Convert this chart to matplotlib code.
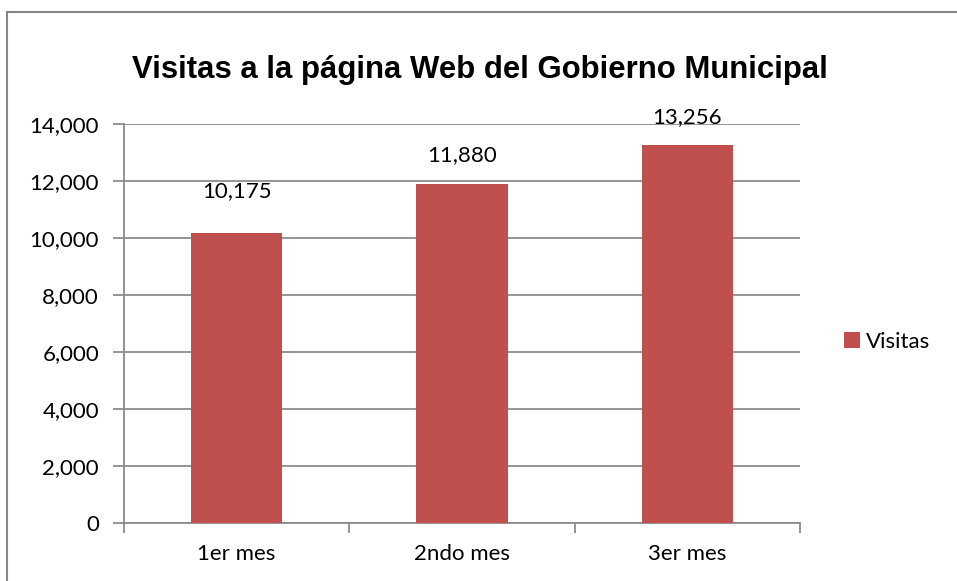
import matplotlib.pyplot as plt
from matplotlib.patches import Rectangle
from matplotlib.ticker import FuncFormatter

categories = ["1er mes", "2ndo mes", "3er mes"]
visitas = [10175, 11880, 13256]
series_name = "Visitas"
title = "Visitas a la página Web del Gobierno Municipal"
yticks = [0, 2000, 4000, 6000, 8000, 10000, 12000, 14000]

bar_color = "#C0504D"
grid_color = "#8C8C8C"
label_font = "Lato"

fig = plt.figure(figsize=(9.57, 5.81), dpi=100)
ax = fig.add_axes([124 / 957, 1 - 523 / 581, (800 - 124) / 957, (523 - 124) / 581])

# chart frame (left/top edges visible, rest cut off)
fig.patches.append(Rectangle((7 / 957, -0.1), 1.2, 1 - 12 / 581 + 0.1,
                             transform=fig.transFigure, fill=False,
                             edgecolor="#868686", linewidth=1.5))

x = range(len(categories))
bars = ax.bar(x, visitas, width=0.405, color=bar_color, label=series_name, zorder=3)

# data labels
offsets = [30, 21, 20]
for xi, v, off in zip(x, visitas, offsets):
    ax.annotate(f"{v:,}", (xi, v), xytext=(0, off), textcoords="offset points",
                ha="center", va="center", fontsize=16, family=label_font)

ax.set_xlim(-0.5, len(categories) - 0.5)
ax.set_ylim(0, 14000)
ax.set_yticks(yticks)
ax.yaxis.set_major_formatter(FuncFormatter(lambda v, p: f"{int(v):,}"))
ax.grid(axis="y", color=grid_color, linewidth=1.3, zorder=0)
ax.set_axisbelow(True)

for s in ["top", "right"]:
    ax.spines[s].set_visible(False)
for s in ["left", "bottom"]:
    ax.spines[s].set_color(grid_color)
    ax.spines[s].set_linewidth(1.3)

ax.tick_params(axis="y", length=8, width=1.3, color=grid_color, pad=10,
               labelsize=16)
ax.set_xticks([i - 0.5 for i in range(len(categories) + 1)], minor=False)
ax.set_xticklabels([""] * (len(categories) + 1))
ax.set_xticks(list(x), minor=True)
ax.set_xticklabels(categories, minor=True)
ax.tick_params(axis="x", which="major", length=7, width=1.3, color=grid_color)
ax.tick_params(axis="x", which="minor", length=0, pad=15, labelsize=16)
for lbl in ax.get_xticklabels(minor=True) + ax.get_yticklabels():
    lbl.set_family(label_font)

fig.text(480 / 957, 1 - 70 / 581, title, ha="center", va="center",
         fontsize=22.4, fontweight="bold", family="Liberation Sans")

leg = fig.legend(handles=[bars], labels=[series_name], loc="center left",
                 bbox_to_anchor=(824 / 957, 1 - 342 / 581), frameon=False,
                 handlelength=0.7, handleheight=0.7, handletextpad=0.3,
                 prop={"family": label_font, "size": 16})

fig.savefig("out.png", dpi=100)
